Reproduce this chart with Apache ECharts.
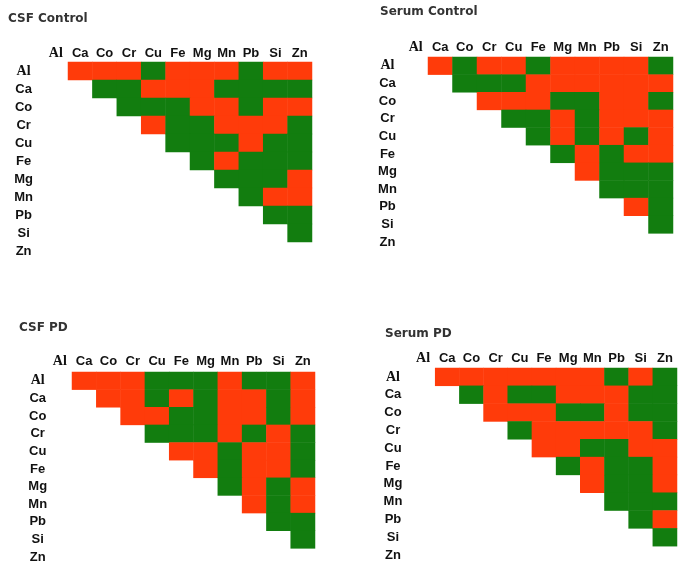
<!DOCTYPE html>
<html><head><meta charset="utf-8">
<script src="https://cdn.jsdelivr.net/npm/echarts@6/dist/echarts.min.js"></script>
<style>html,body{margin:0;padding:0;background:#fff}#c{width:685px;height:569px}</style>
</head><body><div id="c"></div>
<script>
const elements = ['Al','Ca','Co','Cr','Cu','Fe','Mg','Mn','Pb','Si','Zn'];
const panelTitles = ['CSF Control','Serum Control','CSF PD','Serum PD'];
// 1 = red (positive), 0 = green (negative); row i lists columns i+1..10
const csfControl = [
  [1,1,1,0,1,1,1,0,1,1],
  [0,0,1,1,1,0,0,0,0],
  [0,0,0,1,1,0,1,1],
  [1,0,0,1,1,1,0],
  [0,0,0,1,0,0],
  [0,1,0,0,0],
  [0,0,0,1],
  [0,1,1],
  [0,0],
  [0]
];
const serumControl = [
  [1,0,1,1,0,1,1,1,1,0],
  [0,0,0,1,1,1,1,1,1],
  [1,1,1,0,0,1,1,0],
  [0,0,1,0,1,1,1],
  [0,1,0,1,0,1],
  [0,1,0,1,1],
  [1,0,0,0],
  [0,0,0],
  [1,0],
  [0]
];
const csfPD = [
  [1,1,1,0,0,0,1,0,0,1],
  [1,1,0,1,0,1,1,0,1],
  [1,1,0,0,1,1,0,1],
  [0,0,0,1,0,1,0],
  [1,1,0,1,1,0],
  [1,0,1,1,0],
  [0,1,0,1],
  [1,0,1],
  [0,0],
  [0]
];
const serumPD = [
  [1,1,1,1,1,1,1,0,1,0],
  [0,1,0,0,1,1,1,0,0],
  [1,1,1,0,0,1,0,0],
  [0,1,1,1,1,1,0],
  [1,1,0,0,1,1],
  [0,1,0,0,1],
  [1,0,0,1],
  [0,0,0],
  [0,1],
  [0]
];
const matrices = [csfControl, serumControl, csfPD, serumPD];

const RED = '#ff3b0a', GREEN = '#127d0f';
const layouts = [
  {left:43.6, top:62, width:268.4, height:198, title:[3,8], rowMargin:20, colMargin:2},
  {left:403.5, top:57, width:269.5, height:194, title:[375,1], rowMargin:16, colMargin:3},
  {left:47.7, top:372, width:267.3, height:194, title:[14,317], rowMargin:10, colMargin:4},
  {left:411, top:368, width:266, height:196, title:[380,323], rowMargin:18, colMargin:3}
];
function toCells(m){
  const out=[];
  m.forEach((row,i)=>row.forEach((v,k)=>{const j=i+1+k; out.push([j,i,v]);}));
  return out;
}
const labelFmt = v => v==='Al' ? '{s|Al}' : v;
const rich = {s:{fontFamily:'Liberation Serif',fontWeight:'bold',fontSize:14,color:'#111'}};
const grid=[],xAxis=[],yAxis=[],series=[],title=[];
layouts.forEach((L,p)=>{
  grid.push({left:L.left,top:L.top,width:L.width,height:L.height});
  title.push({text:panelTitles[p],left:L.title[0],top:L.title[1],
    textStyle:{fontFamily:'DejaVu Sans',fontSize:12,fontWeight:'bold',color:'#333'}});
  xAxis.push({type:'category',gridIndex:p,data:elements,position:'top',
    axisLine:{show:false},axisTick:{show:false},splitLine:{show:false},
    axisLabel:{interval:0,margin:L.colMargin,fontFamily:'Liberation Sans',fontWeight:'bold',fontSize:13,color:'#111',formatter:labelFmt,rich}});
  yAxis.push({type:'category',gridIndex:p,data:elements,inverse:true,
    axisLine:{show:false},axisTick:{show:false},splitLine:{show:false},
    axisLabel:{interval:0,margin:L.rowMargin,align:'center',fontFamily:'Liberation Sans',fontWeight:'bold',fontSize:13,color:'#111',formatter:labelFmt,rich}});
  series.push({type:'heatmap',xAxisIndex:p,yAxisIndex:p,data:toCells(matrices[p]),
    itemStyle:{borderWidth:0},emphasis:{disabled:true}});
});
const chart = echarts.init(document.getElementById('c'));
chart.setOption({
  animation:false,
  title, grid, xAxis, yAxis, series,
  visualMap:{show:false,type:'piecewise',seriesIndex:[0,1,2,3],dimension:2,
    pieces:[{value:0,color:GREEN},{value:1,color:RED}]}
});
</script></body></html>
